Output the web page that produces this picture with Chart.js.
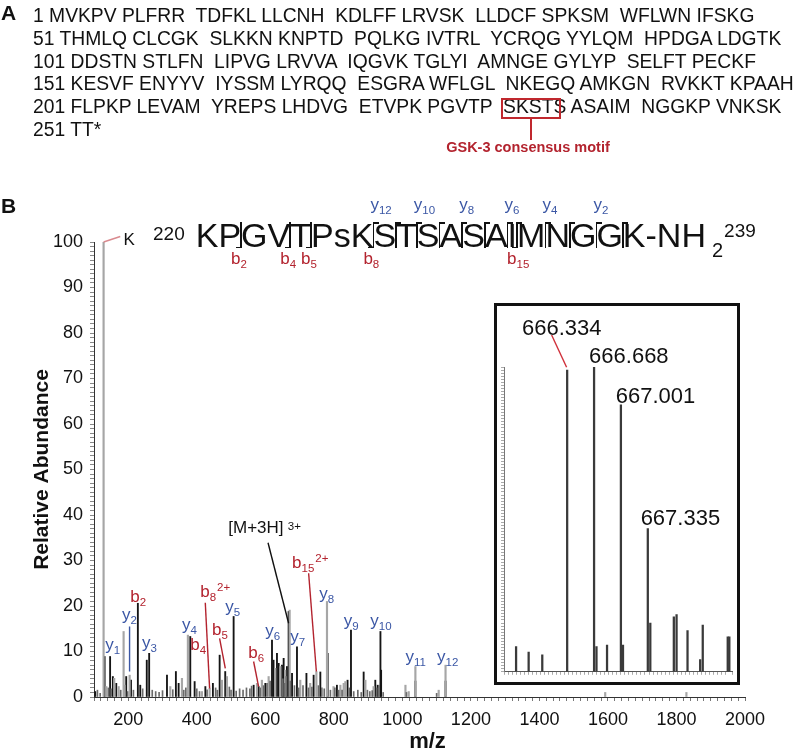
<!DOCTYPE html>
<html>
<head>
<meta charset="utf-8">
<script src="https://cdn.jsdelivr.net/npm/chart.js@4.4.1/dist/chart.umd.min.js"></script>
<style>
  html,body{margin:0;padding:0;background:#fff;}
  body{width:800px;height:755px;position:relative;overflow:hidden;font-family:'Liberation Sans',Arial,Helvetica,sans-serif;color:#111;}
  .abs{position:absolute;}
  #pa{left:33px;top:5px;font-size:19.3px;line-height:22.8px;white-space:pre;}
  .panel{font-weight:bold;font-size:21px;line-height:21px;}
  #hdr{left:153px;top:218px;font-size:34px;line-height:34px;white-space:pre;}
  .ion{font-size:17px;line-height:17px;white-space:pre;}
  .ion span{font-size:11.5px;line-height:0;position:relative;top:4px;}
  .brk{position:absolute;background:#111;}
</style>
</head>
<body>
<canvas id="main" width="800" height="755" class="abs" style="left:0;top:0"></canvas>
<div id="insetBox" class="abs" style="left:494px;top:303px;width:246px;height:382px;border:3px solid #111;box-sizing:border-box;">
  <canvas id="inset" width="240" height="376" class="abs" style="left:0;top:0"></canvas>
</div>

<div class="abs panel" style="left:1px;top:2px">A</div>
<div id="pa" class="abs"></div>
<div id="motifBox" class="abs" style="border:2px solid #c0282e;box-sizing:border-box"></div>
<div id="motifLine" class="abs" style="background:#c0282e;width:2px"></div>
<div id="motifLbl" class="abs" style="color:#b3232e;font-weight:bold;font-size:14.5px;line-height:14.5px;white-space:pre">GSK-3 consensus motif</div>

<div class="abs panel" style="left:1px;top:195px">B</div>
<div id="hdr" class="abs"></div>

<script>
// ---------------- DATA ----------------
const sequenceLines = [
  "1 MVKPV PLFRR  TDFKL LLCNH  KDLFF LRVSK  LLDCF SPKSM  WFLWN IFSKG",
  "51 THMLQ CLCGK  SLKKN KNPTD  PQLKG IVTRL  YCRQG YYLQM  HPDGA LDGTK",
  "101 DDSTN STLFN  LIPVG LRVVA  IQGVK TGLYI  AMNGE GYLYP  SELFT PECKF",
  "151 KESVF ENYYV  IYSSM LYRQQ  ESGRA WFLGL  NKEGQ AMKGN  RVKKT KPAAH",
  "201 FLPKP LEVAM  YREPS LHDVG  ETVPK PGVTP  SKSTS ASAIM  NGGKP VNKSK",
  "251 TT*"
];
const motif = "SKSTS";

const peptideResidues = ["K","P","G","V","T","P","s","K","S","T","S","A","S","A","I","M","N","G","G","K"];
const peptideStart = "220", peptideEnd = "239";
const bBoundaries = [2,4,5,8,15];           // cleavage after residue n (b ions)
const bLabelled   = [2,4,5,8,15];
const yBoundaries = [8,9,10,11,12,13,14,15,16,17,18,19];
const yLabelled   = [12,10,8,6,4,2];

// main MS/MS spectrum (m/z, relative abundance %)
const greyMz  = [128,136,159,172,186.4,189,204,322.6,356.7,374,415,437.5,473.5,488,575.7,590,609.7,629,644,658,671,702,731,749,780,799,819,828.7,833.6,892,916,1009,1018.5,1038,1106,1126,1592,1829];
const greyInt = [100,2.3,4.1,2.3,14.4,2.6,4.8,2.3,4.1,13.6,1.2,1.9,3.7,4.5,3.0,3.7,4.5,6.3,6.7,5.9,19.1,3.7,3.0,5.6,21,2.3,2.6,3.0,3.4,3.7,2.3,2.6,1.2,6.7,1.5,7.0,1.0,1.0];

const darkMz  = [103.6,131,147,155,165,194,208,228,235,254,261,313,339,347,381,393.7,425,447,466.7,483,507.5,566,580.5,600,619.5,624,634,639,648.6,653.5,663,668,678,692.4,720,741,760.6,782,809,840,850,887,921,928,936,938,1038,1126];
const darkInt = [1.2,8.9,8.9,4.5,3.0,4.5,3.7,20.6,2.6,8.1,9.6,4.8,5.6,3.0,13.3,3.4,2.3,3.0,9.2,5.6,17.7,2.6,2.3,3.0,12.5,8.1,9.6,7.4,7.0,8.5,6.7,18.8,5.2,11,5.2,4.8,5.5,9.6,2.6,3.7,14.7,5.5,3.7,2.6,14.4,5.9,3.5,3.5];

const minorMz  = [110,118,142,150,178,198,215,242,270,280,290,300,330,362,368,400,408,430,455,460,495,500,515,525,535,545,555,560,585,595,605,614,651,656,661,673,685,697,710,726,736,755,765,772,790,803,814,824,845,858,870,880,898,905,912,925,932,944,1012,1100];
const minorInt = [1.5,0.8,2.0,1.8,1.5,1.2,1.5,1.8,1.5,1.2,1.0,1.4,1.6,1.5,2.0,1.8,1.2,1.6,2.0,1.5,2.2,1.5,1.3,1.8,1.5,2.0,1.8,2.4,2.0,2.5,3.0,3.5,4.0,3.0,4.5,3.5,2.5,2.0,2.5,2.0,2.2,2.5,2.0,1.8,1.5,2.0,1.5,1.5,2.0,1.2,1.5,1.0,1.5,1.2,1.4,2.0,2.5,1.0,1.0,0.8];

const xTickLabels = [200,400,600,800,1000,1200,1400,1600,1800,2000];
const yTickLabels = [0,10,20,30,40,50,60,70,80,90,100];

// inset: precursor isotope cluster
const insetMz  = [665.70,665.856,666.025,666.334,666.668,666.698,666.829,667.001,667.027,667.335,667.366,667.658,667.692,667.828,667.985,668.017,668.327,668.347];
const insetInt = [8.3,6.5,5.6,99,100,8.3,8.8,87.6,8.8,47,16,18,18.8,13.5,4,15.3,11.5,11.5];
const insetLabels = ["666.334","666.668","667.001","667.335"];

// ---------------- STYLE / LAYOUT ----------------
const F = "'Liberation Sans', Arial, Helvetica, sans-serif";
const RED = '#b3232e', BLUE = '#3b57a5', PINK = '#d98a8f';
Chart.defaults.font.family = F;
Chart.defaults.color = '#111';

// annotation placement (data coordinates of the label's left/baseline)
const ionLabels = [
  {m:'y', s:'1',  at:[132.8,10.3], c:BLUE},
  {m:'y', s:'2',  at:[181.6,16.9], c:BLUE},
  {m:'b', s:'2',  at:[205.8,20.9], c:RED},
  {m:'y', s:'3',  at:[240,10.8],  c:BLUE},
  {m:'y', s:'4',  at:[356.8,14.7], c:BLUE},
  {m:'b', s:'4',  at:[381,10.3],  c:RED},
  {m:'b', s:'8',  p:'2+', at:[410,22],  c:RED},
  {m:'b', s:'5',  at:[444.4,13.6], c:RED},
  {m:'y', s:'5',  at:[483.2,18.7], c:BLUE},
  {m:'b', s:'6',  at:[550.4,8.6],  c:RED},
  {m:'y', s:'6',  at:[600,13.3],  c:BLUE},
  {m:'y', s:'7',  at:[673,12.1],  c:BLUE},
  {m:'b', s:'15', p:'2+', at:[678,28.4], c:RED},
  {m:'y', s:'8',  at:[757.7,21.6], c:BLUE},
  {m:'y', s:'9',  at:[828.6,15.5], c:BLUE},
  {m:'y', s:'10', at:[906.6,15.5], c:BLUE},
  {m:'y', s:'11', at:[1008.8,7.8], c:BLUE},
  {m:'y', s:'12', at:[1101.3,7.8], c:BLUE},
  {m:'[M+3H]', p:' 3+', at:[492,36.1], c:'#111', pOff:-2.5},
  {m:'K', at:[186,99.3], c:'#111'}
];
const leaders = [
  {from:[203.8,15.5], to:[203.8,5.6], c:BLUE},
  {from:[424.8,20.7], to:[437.4,1.9], c:RED},
  {from:[466.6,12.9], to:[483.2,6.3], c:RED},
  {from:[565.8,7.8],  to:[580.4,2.3], c:RED},
  {from:[607.9,33.9], to:[668,16.2],  c:'#111'},
  {from:[726.4,27.2], to:[749,5.6],   c:RED},
  {from:[128,100],    to:[176.6,101.2], c:PINK}
];
const insetLabelAt = [[665.773,110.6],[666.606,101.3],[666.937,88.3],[667.246,48.1]];
const insetLeader = {from:[666.141,110.5], to:[666.327,99.9], c:'#d0303a'};

function pts(xs, ys){ return xs.map((x,i)=>({x:x, y:ys[i]})); }

function drawIon(ctx, x, y, lab){
  const size = 17, ss = 11.5;
  ctx.fillStyle = lab.c;
  ctx.textAlign = 'left'; ctx.textBaseline = 'alphabetic';
  ctx.font = size + 'px ' + F;
  ctx.fillText(lab.m, x, y);
  let w = ctx.measureText(lab.m).width;
  ctx.font = ss + 'px ' + F;
  if (lab.s){ ctx.fillText(lab.s, x + w, y + 4); w += ctx.measureText(lab.s).width; }
  if (lab.p){ ctx.fillText(lab.p, x + w + 1, y + (lab.pOff !== undefined ? lab.pOff : -6)); }
}

const mainAnno = {
  id:'mainAnno',
  afterDatasetsDraw(chart){
    const {ctx, scales:{x, y}} = chart;
    ctx.save();
    ctx.lineWidth = 1.4;
    leaders.forEach(l=>{
      ctx.strokeStyle = l.c;
      ctx.beginPath();
      ctx.moveTo(x.getPixelForValue(l.from[0]), y.getPixelForValue(l.from[1]));
      ctx.lineTo(x.getPixelForValue(l.to[0]), y.getPixelForValue(l.to[1]));
      ctx.stroke();
    });
    ionLabels.forEach(l=> drawIon(ctx, x.getPixelForValue(l.at[0]), y.getPixelForValue(l.at[1]), l));
    ctx.restore();
  }
};

// nudge the x-axis title (the reference centres "m/z" slightly right of the plot centre)
const xTitleShift = {
  id:'xTitleShift',
  afterUpdate(chart){
    const s = chart.scales.x;
    if (s && !s._shifted){
      const orig = s.drawTitle;
      s.drawTitle = function(){ this.ctx.save(); this.ctx.translate(8,0); orig.call(this); this.ctx.restore(); };
      s._shifted = true;
    }
  }
};

new Chart(document.getElementById('main'), {
  type:'bar',
  data:{datasets:[
    {data:pts(minorMz, minorInt), backgroundColor:'#6a6a6a', barThickness:1, grouped:false},
    {data:pts(greyMz, greyInt), backgroundColor:'#a6a6a6', barThickness:1.5, grouped:false},
    {data:pts(darkMz, darkInt), backgroundColor:'#151515', barThickness:1.2, grouped:false}
  ]},
  options:{
    responsive:false, animation:false, devicePixelRatio:1,
    layout:{padding:{left:0, right:55, top:242, bottom:0}},
    plugins:{legend:{display:false}, tooltip:{enabled:false}},
    scales:{
      x:{type:'linear', min:100, max:2000, offset:false,
         grid:{drawOnChartArea:false, offset:false, tickLength:4, color:'#777'},
         border:{color:'#333', width:1},
         ticks:{stepSize:20, autoSkip:false, maxRotation:0, minRotation:0, maxTicksLimit:500, padding:8,
                font:{size:18}, color:'#111',
                callback:v=> xTickLabels.includes(v) ? String(v) : ''},
         title:{display:true, text:'m/z', font:{size:22, weight:'bold'}, padding:0, color:'#111'},
         afterFit:s=>{s.height = 58;}
      },
      y:{min:0, max:100,
         grid:{drawOnChartArea:false, tickLength:4, color:'#888'},
         border:{color:'#333', width:1},
         ticks:{stepSize:1, autoSkip:false, maxTicksLimit:500, padding:7, font:{size:18}, color:'#111',
                callback:v=> yTickLabels.includes(v) ? String(v) : ''},
         title:{display:true, text:'Relative Abundance', font:{size:21, weight:'bold'}, padding:{top:30, bottom:0}, color:'#111'},
         afterFit:s=>{s.width = 94;}
      }
    }
  },
  plugins:[mainAnno, xTitleShift]
});

const insetAnno = {
  id:'insetAnno',
  afterDatasetsDraw(chart){
    const {ctx, scales:{x, y}} = chart;
    ctx.save();
    ctx.strokeStyle = insetLeader.c; ctx.lineWidth = 1.4;
    ctx.beginPath();
    ctx.moveTo(x.getPixelForValue(insetLeader.from[0]), y.getPixelForValue(insetLeader.from[1]));
    ctx.lineTo(x.getPixelForValue(insetLeader.to[0]), y.getPixelForValue(insetLeader.to[1]));
    ctx.stroke();
    ctx.fillStyle = '#111'; ctx.font = '22px ' + F; ctx.textAlign='left'; ctx.textBaseline='alphabetic';
    insetLabels.forEach((t,i)=> ctx.fillText(t, x.getPixelForValue(insetLabelAt[i][0]), y.getPixelForValue(insetLabelAt[i][1])));
    ctx.restore();
  }
};

new Chart(document.getElementById('inset'), {
  type:'bar',
  data:{datasets:[{data:pts(insetMz, insetInt), backgroundColor:'#3a3a3a', barThickness:1.6, grouped:false}]},
  options:{
    responsive:false, animation:false, devicePixelRatio:1,
    layout:{padding:{left:0, right:5, top:61, bottom:0}},
    plugins:{legend:{display:false}, tooltip:{enabled:false}},
    scales:{
      x:{type:'linear', min:665.55, max:668.38, offset:false,
         grid:{drawOnChartArea:false, offset:false, tickLength:3, color:'#aaa'},
         border:{color:'#555', width:1},
         ticks:{stepSize:0.05, autoSkip:false, maxRotation:0, maxTicksLimit:500, callback:()=>''},
         afterFit:s=>{s.height = 6;}
      },
      y:{min:0, max:100,
         grid:{drawOnChartArea:false, tickLength:3, color:'#aaa'},
         border:{color:'#777', width:1},
         ticks:{stepSize:1, autoSkip:false, maxTicksLimit:500, callback:()=>''},
         afterFit:s=>{s.width = 7;}
      }
    }
  },
  plugins:[insetAnno]
});

// ---------------- PANEL A (sequence) ----------------
const pa = document.getElementById('pa');
pa.innerHTML = sequenceLines.map(l=>{
  const k = l.indexOf(motif);
  return k < 0 ? l : l.slice(0,k) + '<span id="motif">' + motif + '</span>' + l.slice(k + motif.length);
}).join('\n');
const mr = document.getElementById('motif').getBoundingClientRect();
const mb = document.getElementById('motifBox');
const boxL = mr.left - 2, boxR = mr.right - 5;
mb.style.left = boxL + 'px'; mb.style.top = '97.5px';
mb.style.width = (boxR - boxL) + 'px'; mb.style.height = '21px';
const cx = (boxL + boxR) / 2;
const ml = document.getElementById('motifLine');
ml.style.left = (cx - 1) + 'px'; ml.style.top = '118px'; ml.style.height = '22px';
const lbl = document.getElementById('motifLbl');
lbl.style.left = (cx - lbl.offsetWidth/2 - 3) + 'px'; lbl.style.top = '139.5px';

// ---------------- PANEL B header (peptide with fragment map) ----------------
const hdr = document.getElementById('hdr');
let h = '<span style="font-size:19px;line-height:0;position:relative;top:-7px;margin-right:11px">' + peptideStart + '</span>';
peptideResidues.forEach((r,i)=>{ h += '<span id="res' + i + '">' + r + '</span>'; });
h += '<span>-NH</span><span style="font-size:20px;line-height:0;position:relative;top:10px;margin-left:6px">2</span>';
h += '<span style="font-size:19px;line-height:0;position:relative;top:-10px;margin-left:1px">' + peptideEnd + '</span>';
hdr.innerHTML = h;

const body = document.body;
function addDiv(cls, css, html){ const d = document.createElement('div'); d.className = cls; d.style.cssText = css; if (html) d.innerHTML = html; body.appendChild(d); return d; }
const nRes = peptideResidues.length;
const boundaryX = n => document.getElementById('res' + (n-1)).getBoundingClientRect().right;
const allB = new Set([...bBoundaries, ...yBoundaries]);
const TOP = 222, BOT = 248;
allB.forEach(n=>{
  const x = boundaryX(n);
  addDiv('brk', `left:${x-0.75}px;top:${TOP}px;width:1.5px;height:${BOT-TOP}px`);
  if (yBoundaries.includes(n)) addDiv('brk', `left:${x-0.75}px;top:${TOP}px;width:6px;height:1.5px`);
  if (bBoundaries.includes(n)) addDiv('brk', `left:${x-5.25}px;top:${BOT-1.5}px;width:6px;height:1.5px`);
});
bLabelled.forEach(n=>{
  const x = boundaryX(n);
  addDiv('abs ion', `left:${x-10}px;top:${264.4-14.4}px;color:${RED}`, 'b<span>' + n + '</span>');
});
yLabelled.forEach(k=>{
  const n = nRes - k;
  const x = boundaryX(n);
  addDiv('abs ion', `left:${x-3}px;top:${210-14.4}px;color:${BLUE}`, 'y<span>' + k + '</span>');
});
</script>
</body>
</html>
